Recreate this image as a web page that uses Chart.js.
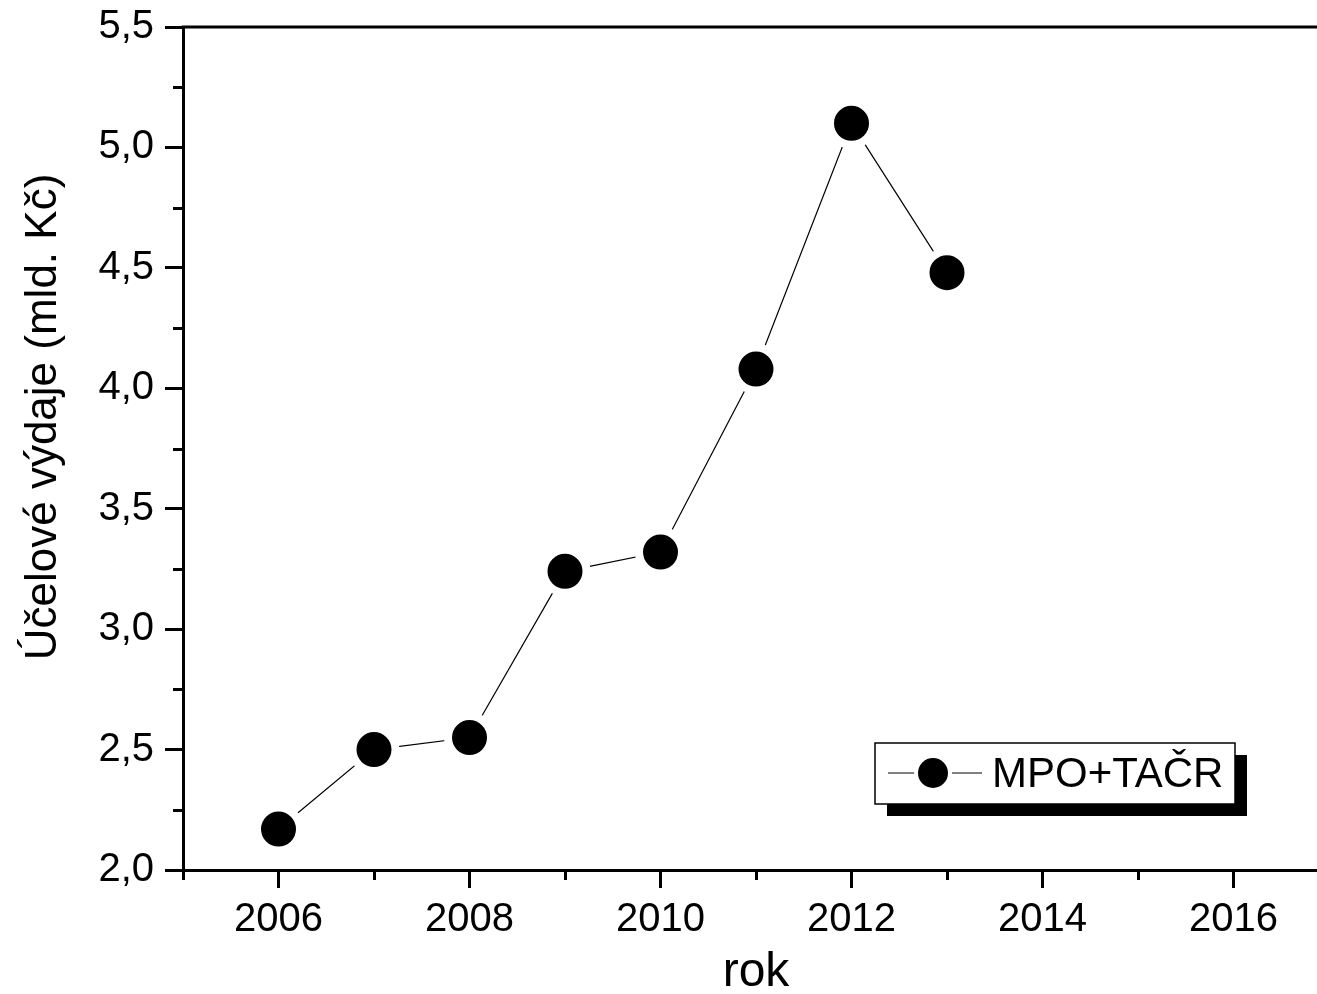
<!DOCTYPE html>
<html>
<head>
<meta charset="utf-8">
<script src="https://cdn.jsdelivr.net/npm/chart.js@4/dist/chart.umd.min.js"></script>
<style>
html,body{margin:0;padding:0;background:#fff;overflow:hidden;}
#wrap{width:1345px;height:994px;position:relative;}
</style>
</head>
<body>
<div id="wrap"><canvas id="c" width="1345" height="994"></canvas></div>
<script>
const years = [2006, 2007, 2008, 2009, 2010, 2011, 2012, 2013];
const values = [2.17, 2.50, 2.55, 3.24, 3.32, 4.08, 5.10, 4.48];
const seriesName = 'MPO+TAČR';
const xTitle = 'rok';
const yTitle = 'Účelové výdaje (mld. Kč)';
const xMin = 2005, xMax = 2017, xStep = 1;
const yMin = 2.0, yMax = 5.5, yStep = 0.25;

const FONT = 'Arial, "Liberation Sans", sans-serif';

function isMajorX(v){ return Math.round(v) % 2 === 0; }
function isMajorY(v){ return Math.abs(v*2 - Math.round(v*2)) < 1e-6; }

const decor = {
  id: 'decor',
  afterDraw(chart){
    const ctx = chart.ctx, a = chart.chartArea;
    const xs = chart.scales.x, ys = chart.scales.y;
    ctx.save();
    // top frame line
    ctx.strokeStyle = '#000'; ctx.lineWidth = 3;
    ctx.beginPath(); ctx.moveTo(a.left - 1.5, a.top); ctx.lineTo(a.right, a.top); ctx.stroke();
    // minor ticks
    ctx.lineWidth = 3;
    xs.ticks.forEach(t => {
      if (!isMajorX(t.value)) {
        const px = Math.round(xs.getPixelForValue(t.value)) + 0.5;
        ctx.beginPath(); ctx.moveTo(px, a.bottom); ctx.lineTo(px, a.bottom + 10); ctx.stroke();
      }
    });
    ys.ticks.forEach(t => {
      if (!isMajorY(t.value)) {
        const py = Math.round(ys.getPixelForValue(t.value)) + 0.5;
        ctx.beginPath(); ctx.moveTo(a.left, py); ctx.lineTo(a.left - 10, py); ctx.stroke();
      }
    });
    // axis titles
    ctx.fillStyle = '#000';
    ctx.font = '48px ' + FONT;
    ctx.textAlign = 'center'; ctx.textBaseline = 'alphabetic';
    ctx.fillText(xTitle, (a.left + a.right) / 2, a.bottom + 116);
    ctx.save();
    ctx.translate(56, a.top + 390);
    ctx.rotate(-Math.PI / 2);
    ctx.font = '44px ' + FONT;
    ctx.textBaseline = 'alphabetic';
    ctx.fillText(yTitle, 0, 0);
    ctx.restore();
    // legend
    const bx = a.left + 692, by = a.top + 716, bw = 360, bh = 61, sh = 12;
    ctx.fillStyle = '#000';
    ctx.fillRect(bx + sh, by + sh, bw, bh);
    ctx.fillStyle = '#fff';
    ctx.fillRect(bx, by, bw, bh);
    ctx.lineWidth = 1.5; ctx.strokeStyle = '#000';
    ctx.strokeRect(bx, by, bw, bh);
    const cy = by + 30;
    ctx.lineWidth = 1;
    ctx.beginPath(); ctx.moveTo(bx + 13, cy); ctx.lineTo(bx + 107, cy); ctx.stroke();
    ctx.fillStyle = '#fff';
    ctx.beginPath(); ctx.arc(bx + 58, cy, 19, 0, Math.PI * 2); ctx.fill();
    ctx.fillStyle = '#000';
    ctx.beginPath(); ctx.arc(bx + 58, cy, 15, 0, Math.PI * 2); ctx.fill();
    ctx.font = '42px ' + FONT;
    ctx.textAlign = 'left'; ctx.textBaseline = 'middle';
    ctx.fillText(seriesName, bx + 117, cy + 2);
    ctx.restore();
  }
};

new Chart(document.getElementById('c'), {
  type: 'line',
  data: {
    datasets: [{
      label: seriesName,
      data: years.map((y, i) => ({x: y, y: values[i]})),
      borderColor: '#000',
      borderWidth: 1.2,
      tension: 0,
      pointRadius: 21.5,
      pointHoverRadius: 21.5,
      pointBorderWidth: 8,
      pointBorderColor: '#fff',
      pointBackgroundColor: '#000',
      clip: false
    }]
  },
  options: {
    responsive: false,
    animation: false,
    events: [],
    layout: { autoPadding: false, padding: { top: 27, right: 16, left: 0, bottom: 0 } },
    plugins: { legend: { display: false }, tooltip: { enabled: false }, title: { display: false } },
    scales: {
      x: {
        type: 'linear', min: xMin, max: xMax,
        afterFit(s){ s.height = 124; s.paddingLeft = 0; s.paddingRight = 0; },
        border: { display: true, color: '#000', width: 3 },
        grid: {
          drawOnChartArea: false, drawTicks: true, tickLength: 18, tickWidth: 3,
          tickColor: c => (c.tick && isMajorX(c.tick.value)) ? '#000' : 'rgba(0,0,0,0)'
        },
        ticks: {
          stepSize: xStep, autoSkip: false, maxRotation: 0, padding: 8,
          color: '#000', font: { family: FONT, size: 40 },
          callback: v => isMajorX(v) ? String(Math.round(v)) : ''
        }
      },
      y: {
        type: 'linear', min: yMin, max: yMax,
        afterFit(s){ s.width = 183; s.paddingTop = 0; s.paddingBottom = 0; },
        border: { display: true, color: '#000', width: 3 },
        grid: {
          drawOnChartArea: false, drawTicks: true, tickLength: 18, tickWidth: 3,
          tickColor: c => (c.tick && isMajorY(c.tick.value)) ? '#000' : 'rgba(0,0,0,0)'
        },
        ticks: {
          stepSize: yStep, autoSkip: false, padding: 11,
          color: '#000', font: { family: FONT, size: 40 },
          callback: v => isMajorY(v) ? v.toFixed(1).replace('.', ',') : ''
        }
      }
    }
  },
  plugins: [decor]
});
</script>
</body>
</html>
